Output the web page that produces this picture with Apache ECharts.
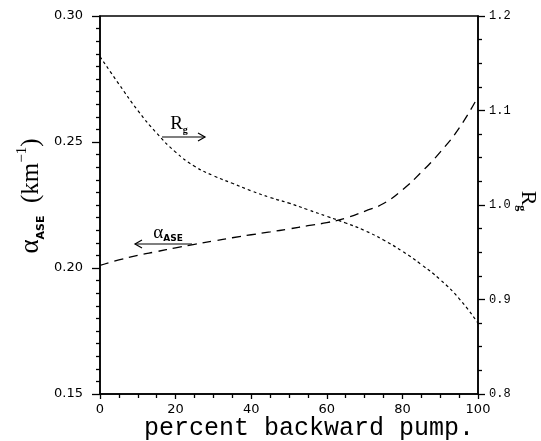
<!DOCTYPE html>
<html>
<head>
<meta charset="utf-8">
<script src="https://cdn.jsdelivr.net/npm/echarts@6/dist/echarts.min.js"></script>
<style>
  html, body { margin: 0; padding: 0; background: #fff; }
  #chart { width: 541px; height: 441px; }
</style>
</head>
<body>
<div id="chart"></div>
<script>
// percent of pump power launched backward
var pumpPct = [0, 5, 10, 15, 20, 25, 30, 35, 40, 45, 50, 55, 60, 65, 70, 75, 80, 85, 90, 95, 100];
// ASE loss coefficient (km^-1), left axis
var alphaASE = [0.201, 0.2032, 0.205, 0.2065, 0.208, 0.2094, 0.2107, 0.212, 0.2132, 0.2143, 0.2155,
  0.2168, 0.218, 0.2198, 0.2225, 0.2256, 0.231, 0.238, 0.246, 0.2555, 0.268];
// Rg, right axis
var gainRatio = [1.157, 1.128, 1.100, 1.076, 1.056, 1.041, 1.031, 1.023, 1.015, 1.008, 1.002,
  0.995, 0.988, 0.981, 0.973, 0.963, 0.951, 0.937, 0.921, 0.901, 0.875];

var leftTicks = [0.15, 0.30, 0.05];
var rightTicks = [0.8, 1.2, 0.1];
var xTicks = [0, 100, 20];

function pairs(xs, ys) {
  return xs.map(function (x, i) { return [x, ys[i]]; });
}

var chart = echarts.init(document.getElementById('chart'));

var serif = 'Liberation Serif';
var black = { color: '#000', width: 1.3 };

function axisParts(minorSplit, tickLen) {
  return {
    axisLine: { show: true, lineStyle: { color: '#000', width: 1.5 } },
    axisTick: { show: true, length: tickLen, lineStyle: black },
    minorTick: { show: true, splitNumber: minorSplit, length: 4, lineStyle: black },
    splitLine: { show: false },
    minorSplitLine: { show: false }
  };
}

chart.setOption({
  animation: false,
  backgroundColor: '#fff',
  grid: {
    left: 100, right: 63, top: 16, bottom: 47,
    show: true, borderColor: '#000', borderWidth: 1.5
  },
  xAxis: Object.assign({
    type: 'value',
    min: xTicks[0], max: xTicks[1], interval: xTicks[2],
    axisLabel: { color: '#000', fontFamily: 'DejaVu Sans', fontSize: 13, margin: 9 }
  }, axisParts(4, 5)),
  yAxis: [
    Object.assign({
      type: 'value', position: 'left',
      min: leftTicks[0], max: leftTicks[1], interval: leftTicks[2],
      axisLabel: {
        color: '#000', fontFamily: 'DejaVu Sans', fontSize: 13, margin: 17,
        formatter: function (v) { return v.toFixed(2); }
      }
    }, axisParts(10, 8)),
    Object.assign({
      type: 'value', position: 'right',
      min: rightTicks[0], max: rightTicks[1], interval: rightTicks[2],
      axisLabel: {
        color: '#000', fontFamily: 'Liberation Mono', fontSize: 12, margin: 11,
        formatter: function (v) { return v.toFixed(1); }
      }
    }, axisParts(4, 7))
  ],
  series: [
    {
      name: 'alpha', type: 'line', yAxisIndex: 0, smooth: true, showSymbol: false,
      data: pairs(pumpPct, alphaASE),
      lineStyle: { color: '#000', width: 1.3, type: [9, 6] }
    },
    {
      name: 'Rg', type: 'line', yAxisIndex: 1, smooth: true, showSymbol: false,
      data: pairs(pumpPct, gainRatio),
      lineStyle: { color: '#000', width: 1.2, type: [3, 3] }
    }
  ],
  graphic: [
    // x axis title
    {
      type: 'text', x: 309, y: 428,
      style: {
        text: 'percent backward pump.', fill: '#000',
        font: '25px "Liberation Mono"', align: 'center', verticalAlign: 'middle'
      }
    },
    // left axis title
    {
      type: 'text', x: 31, y: 196, rotation: Math.PI / 2,
      style: {
        text: '{a|α}{s|ASE}{t|  (km}{p|−1}{t|)}',
        align: 'center', verticalAlign: 'middle',
        rich: {
          a: { fontFamily: serif, fontSize: 27, fill: '#000', lineHeight: 32 },
          s: { fontFamily: 'DejaVu Sans', fontWeight: 'bold', fontSize: 11, fill: '#000', verticalAlign: 'bottom', lineHeight: 32 },
          t: { fontFamily: serif, fontSize: 25, fill: '#000', lineHeight: 32 },
          p: { fontFamily: serif, fontSize: 15, fill: '#000', verticalAlign: 'top', lineHeight: 32 }
        }
      }
    },
    // right axis title
    {
      type: 'text', x: 528, y: 201, rotation: -Math.PI / 2,
      style: {
        text: '{r|R}{g|g}',
        align: 'center', verticalAlign: 'middle',
        rich: {
          r: { fontFamily: serif, fontSize: 22, fill: '#000', lineHeight: 26 },
          g: { fontFamily: serif, fontWeight: 'bold', fontSize: 12, fill: '#000', verticalAlign: 'bottom', lineHeight: 26 }
        }
      }
    },
    // Rg annotation with arrow to the right
    {
      type: 'text', x: 179, y: 124,
      style: {
        text: '{r|R}{g|g}', align: 'center', verticalAlign: 'middle',
        rich: {
          r: { fontFamily: serif, fontSize: 19, fill: '#000', lineHeight: 22 },
          g: { fontFamily: serif, fontWeight: 'bold', fontSize: 10, fill: '#000', verticalAlign: 'bottom', lineHeight: 22 }
        }
      }
    },
    { type: 'line', shape: { x1: 162, y1: 137, x2: 205, y2: 137 }, style: { stroke: '#000', lineWidth: 1.2 } },
    { type: 'polyline', shape: { points: [[198, 133], [205, 137], [198, 141]] }, style: { stroke: '#000', fill: null, lineWidth: 1.2 } },
    // alpha annotation with arrow to the left
    {
      type: 'text', x: 168, y: 233,
      style: {
        text: '{a|α}{s|ASE}', align: 'center', verticalAlign: 'middle',
        rich: {
          a: { fontFamily: serif, fontSize: 19, fill: '#000', lineHeight: 20 },
          s: { fontFamily: 'DejaVu Sans', fontWeight: 'bold', fontSize: 9, fill: '#000', verticalAlign: 'bottom', lineHeight: 20 }
        }
      }
    },
    { type: 'line', shape: { x1: 135, y1: 244, x2: 192, y2: 244 }, style: { stroke: '#000', lineWidth: 1.2 } },
    { type: 'polyline', shape: { points: [[142, 240], [135, 244], [142, 248]] }, style: { stroke: '#000', fill: null, lineWidth: 1.2 } }
  ]
});
</script>
</body>
</html>
